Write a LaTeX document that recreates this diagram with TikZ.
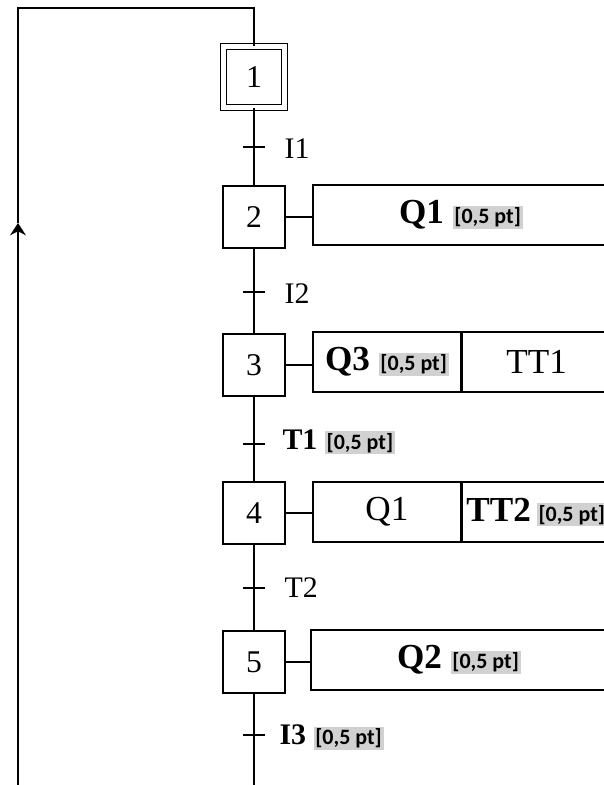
\documentclass[tikz,border=0pt]{standalone}
\usepackage{fontspec}
\setmainfont{Liberation Serif}
\newfontfamily\carlito{Carlito}
\usetikzlibrary{arrows.meta}
\newcommand{\bareme}{{\setlength{\fboxsep}{1pt}\colorbox{black!18}{\carlito\bfseries\fontsize{12.5}{14}\selectfont [0,5 pt]}}}

\begin{document}
\begin{tikzpicture}[x=0.02cm, y=-0.02cm, line width=0.8pt,
    etape/.style={draw, line width=1pt, minimum size=1.24cm, font=\fontsize{18}{20}\selectfont},
    action/.style={draw, line width=1pt, minimum height=1.2cm, anchor=west, font=\fontsize{20}{22}\selectfont},
    recept/.style={anchor=west, font=\fontsize{17}{19}\selectfont}]
    \clip (0,0) rectangle (604,785);

    % etapes
    \node[etape, double, double distance=2.4pt, line width=0.6pt, minimum size=1.22cm] (e1) at (254,77) {1};
    \node[etape] (e2) at (254,217) {2};
    \node[etape] (e3) at (254,365) {3};
    \node[etape] (e4) at (254,513) {4};
    \node[etape] (e5) at (254,662) {5};

    % actions
    \node[action, minimum width=5.92cm] (a2) at (312,215) {\textbf{Q1} \bareme};
    \node[action, minimum width=2.96cm, inner xsep=2pt] (a3) at (312,362) {\textbf{Q3} \bareme};
    \node[action, minimum width=2.96cm] (a3t) at (a3.east) {TT1};
    \node[action, minimum width=2.96cm] (a4) at (312,512) {Q1};
    \node[action, minimum width=2.96cm, inner xsep=1pt, anchor=west] (a4t) at (a4.east) {\textbf{TT2}\,\bareme};
    \node[action, minimum width=5.92cm] (a5) at (310,660) {\textbf{Q2} \bareme};

    \draw (e2.east) -- (e2.east -| a2.west);
    \draw (e3.east) -- (e3.east -| a3.west);
    \draw (e4.east) -- (e4.east -| a4.west);
    \draw (e5.east) -- (e5.east -| a5.west);

    % liaisons
    \coordinate (fin) at (254,785);
    \draw (e1) -- (e2);
    \draw (e2) -- (e3);
    \draw (e3) -- (e4);
    \draw (e4) -- (e5);
    \draw (e5) -- (fin);

    % transitions
    \foreach \y/\nom in {147/t1, 292/t2, 444/t3, 588/t4, 735/t5} {
        \coordinate (\nom) at (254,\y);
        \draw (\nom) +(-11,0) -- +(11,0);
    }
    \node[recept] (r1) at (278,149) {I1};
    \node[recept] (r2) at (278,294) {I2};
    \node[recept] (r3) at (276,442) {\textbf{T1} \bareme};
    \node[recept] (r4) at (278,588) {T2};
    \node[recept] (r5) at (273,737) {\textbf{I3} \bareme};

    % retour
    \coordinate (haut) at (18,8);
    \coordinate (fleche) at (18,223);
    \coordinate (bas) at (18,785);
    \draw[-{Stealth[length=7pt,width=9pt]}] (bas) -- (fleche);
    \draw (fleche) -- (haut) -| (e1);
\end{tikzpicture}
\end{document}
